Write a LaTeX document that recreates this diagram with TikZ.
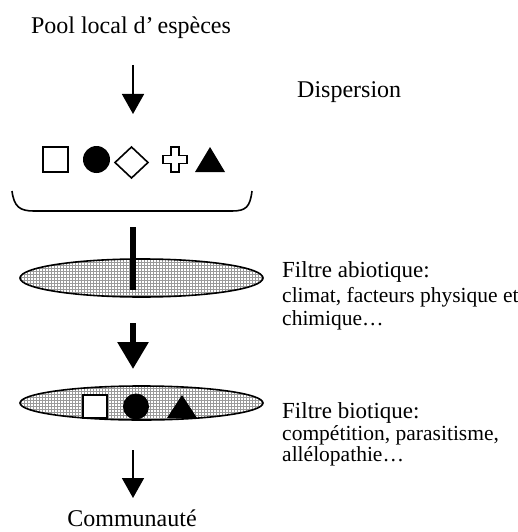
\documentclass[tikz,border=0pt]{standalone}
\usepackage{fontspec}
\setmainfont{Liberation Serif}
\usetikzlibrary{arrows.meta,patterns,shapes.geometric}

\tikzset{
  lbl/.style={font=\fontsize{24}{27}\selectfont, inner sep=0pt},
  titre/.style={font=\fontsize{23}{26}\selectfont, inner sep=0pt},
  sublbl/.style={font=\fontsize{21.5}{24}\selectfont, inner sep=0pt},
  filtre/.style={ellipse, draw, line width=1.6pt, pattern=grid, pattern color=gray!80,
    minimum width=243pt, inner sep=0pt},
  flux/.style={line width=1.6pt, -{Triangle[width=22pt,length=20pt]}},
  fluxepais/.style={line width=6pt, -{Triangle[width=30pt,length=27pt]}},
  vide/.style={draw, line width=1.6pt, fill=white},
  plein/.style={fill=black}
}

\begin{document}
\begin{tikzpicture}[x=1pt,y=-1pt]
		\useasboundingbox (0,0) rectangle (518,532);
		% TEXTS
		\node [lbl] (pool) at (131,28) {Pool local d'\,espèces};
		\node [lbl, anchor=west] (disp) at (297,92) {Dispersion};
		\node [titre, anchor=base west] (abio) at (282,277) {Filtre abiotique:};
		\node [sublbl, anchor=base west] (abio2) at (282,302) {climat, facteurs physique et};
		\node [sublbl, anchor=base west] (abio3) at (282,325) {chimique…};
		\node [titre, anchor=base west] (bio) at (282,418) {Filtre biotique:};
		\node [sublbl, anchor=base west] (bio2) at (282,440) {compétition, parasitisme,};
		\node [sublbl, anchor=base west] (bio3) at (282,461) {allélopathie…};
		\node [lbl, anchor=base] (comm) at (132,526) {Communauté};

		% DISPERSION
		\coordinate (d1) at (133,65);
		\coordinate (d2) at (133,114);
		\draw [flux] (d1) -- (d2);

		% SPECIES POOL
		\draw [vide] (43,147) rectangle (68,172);
		\fill [plein] (96.5,159.5) circle (13.5);
		\draw [vide] (131.5,147) -- (148,162.5) -- (131.5,178) -- (115,162.5) -- cycle;
		\draw [vide] (171,147) -- (179,147) -- (179,155.5) -- (187,155.5) -- (187,163.5)
		  -- (179,163.5) -- (179,172) -- (171,172) -- (171,163.5) -- (163,163.5)
		  -- (163,155.5) -- (171,155.5) -- cycle;
		\fill [plein] (195,172) -- (210,147) -- (225,172) -- cycle;

		% BRACKET
		\draw [line width=1.6pt] (12,191) .. controls (14,207) and (20,211) .. (34,211)
		  -- (232,211) .. controls (246,211) and (250,207) .. (252,191);

		% ABIOTIC FILTER
		\node [filtre, minimum height=38pt] (fa) at (141.5,278) {};
		\coordinate (b1) at (133,227);
		\coordinate (b2) at (133,290);
		\draw [line width=6pt] (b1) -- (b2);
		\coordinate (t1) at (133,323);
		\coordinate (t2) at (133,369);
		\draw [fluxepais] (t1) -- (t2);

		% BIOTIC FILTER
		\node [filtre, minimum height=34pt] (fb) at (141.5,403) {};
		\draw [vide] (83,395) rectangle (107,418);
		\fill [plein] (136,406.5) circle (13);
		\fill [plein] (167,418) -- (182,395) -- (197,418) -- cycle;

		% COMMUNITY
		\coordinate (c1) at (133,450);
		\coordinate (c2) at (133,498);
		\draw [flux] (c1) -- (c2);
		\end{tikzpicture}
\end{document}
